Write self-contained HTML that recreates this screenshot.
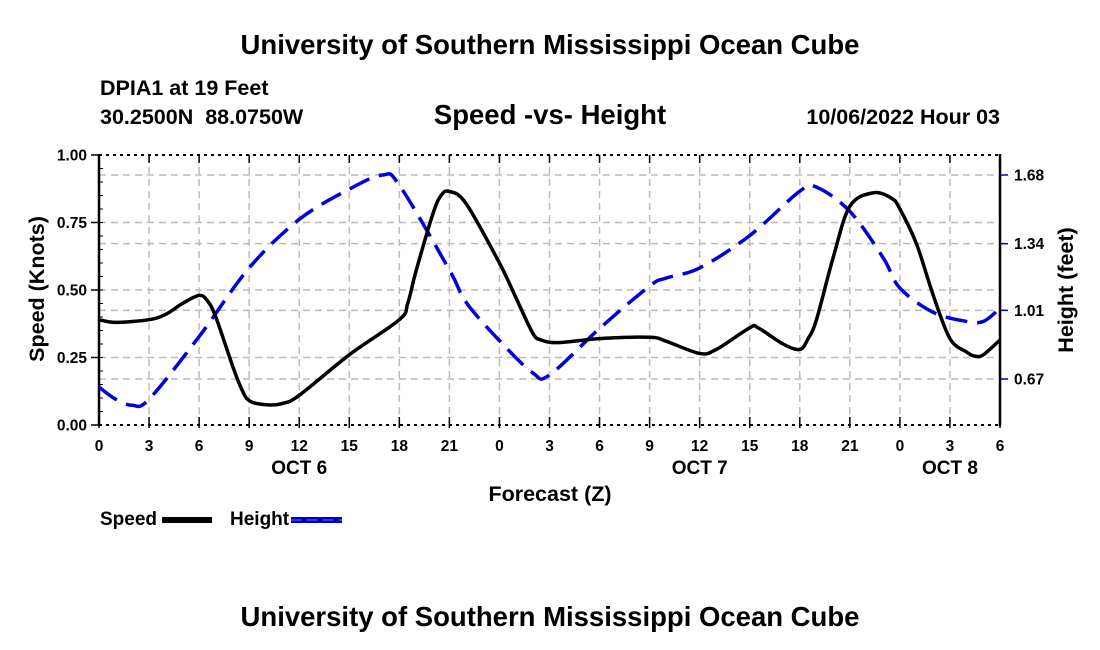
<!DOCTYPE html>
<html><head><meta charset="utf-8">
<style>
body{margin:0;background:#fff;}
svg{display:block;font-family:"Liberation Sans",Arial,sans-serif;font-weight:bold;}
</style></head>
<body>
<svg id="chart" width="1100" height="650" viewBox="0 0 1100 650" xmlns="http://www.w3.org/2000/svg">
<rect width="1100" height="650" fill="#fff"/>
<text x="550" y="54" font-size="27.5" text-anchor="middle">University of Southern Mississippi Ocean Cube</text>
<text x="100" y="95" font-size="21.5">DPIA1 at 19 Feet</text>
<text x="100" y="124" font-size="21.5" xml:space="preserve">30.2500N  88.0750W</text>
<text x="550" y="124" font-size="27.5" text-anchor="middle">Speed -vs- Height</text>
<text x="1000" y="124" font-size="21.5" text-anchor="end">10/06/2022 Hour 03</text>
<g id="grid"></g>
<g id="axes"></g>
<g id="series"></g>
<text x="550" y="501" font-size="21.5" text-anchor="middle">Forecast (Z)</text>
<text transform="translate(44,289) rotate(-90)" font-size="21.5" text-anchor="middle">Speed (Knots)</text>
<text transform="translate(1073,290) rotate(-90)" font-size="21.5" text-anchor="middle">Height (feet)</text>
<g>
<text x="100" y="525" font-size="19">Speed</text>
<rect x="162" y="517" width="50" height="6" fill="#000"/>
<text x="230" y="525" font-size="19">Height</text>
<rect x="291" y="517" width="51" height="6" fill="#0000cc"/>
<line x1="291" y1="520" x2="342" y2="520" stroke="#4444ff" stroke-width="1.5" stroke-dasharray="10 6"/>
</g>
<text x="550" y="626" font-size="27.5" text-anchor="middle">University of Southern Mississippi Ocean Cube</text>
</svg>
<script>
const speedHours = [0,1,3,4,5,6,6.5,7,8,8.5,9,10,11,12,15,18,18.5,19,20,20.5,21,22,24,25,26,26.5,27.5,30,33,34,36,37,39,39.5,41,42,42.5,43,44,45,46.4,47.5,48,49,50,51,52,52.5,53,54];
const speedValues = [0.39,0.38,0.39,0.41,0.45,0.48,0.46,0.40,0.22,0.14,0.09,0.075,0.08,0.11,0.26,0.39,0.45,0.57,0.78,0.85,0.865,0.82,0.60,0.47,0.34,0.315,0.305,0.32,0.325,0.31,0.265,0.28,0.36,0.36,0.30,0.28,0.32,0.39,0.62,0.81,0.86,0.84,0.80,0.67,0.48,0.32,0.27,0.255,0.26,0.315];
const heightHours = [0,1,2,3,6,9,12,15,17,18,21,22,24,26,27,30,33,34,36,39,42,43,45,47,48,50,52,53,54];
const heightValues = [0.63,0.57,0.54,0.57,0.88,1.22,1.46,1.61,1.68,1.63,1.21,1.05,0.86,0.70,0.69,0.92,1.13,1.17,1.22,1.38,1.60,1.62,1.50,1.27,1.12,1.00,0.955,0.955,1.02];
const xTickLabels = ["0","3","6","9","12","15","18","21","0","3","6","9","12","15","18","21","0","3","6"];
const dayLabels = ["OCT 6","OCT 7","OCT 8"];
const dayLabelHours = [12,36,51];
const speedTicks = [0,0.25,0.5,0.75,1.0];
const heightTicks = [0.67,1.01,1.34,1.68];

const X0=99,X1=1000,Y0=425,Y1=155,HMAX=54;
const xS=h=>X0+(X1-X0)*h/HMAX;
const yS=v=>Y0-(Y0-Y1)*v;
const yH=v=>379-(v-0.67)*(204/1.01);
const NS="http://www.w3.org/2000/svg";
function mk(tag,attrs,parent){const e=document.createElementNS(NS,tag);for(const k in attrs)e.setAttribute(k,attrs[k]);parent.appendChild(e);return e;}
const grid=document.getElementById('grid'),axes=document.getElementById('axes'),series=document.getElementById('series');

xTickLabels.forEach((t,i)=>{const x=xS(i*3);
 if(i>0&&i<xTickLabels.length-1){const l=mk('line',{x1:x,y1:Y1,x2:x,y2:Y0,stroke:'#bbb','stroke-width':1.5,'stroke-dasharray':'7 5'},grid);
 
 }
 const tk=mk('line',{x1:x,y1:Y0+3,x2:x,y2:Y0-8,stroke:'#000','stroke-width':1.5},axes);
 
 
 const tk2=mk('line',{x1:x,y1:Y1,x2:x,y2:Y1+8,stroke:'#000','stroke-width':1.5},axes);
 
 
 const tx=mk('text',{x:x,y:451,'font-size':15.5,'text-anchor':'middle'},axes);tx.textContent=t;
 
 
});
dayLabels.forEach((d,i)=>{const tx=mk('text',{x:xS(dayLabelHours[i]),y:474,'font-size':19,'text-anchor':'middle'},axes);tx.textContent=d;
 
 });
speedTicks.forEach(v=>{const y=yS(v);
 if(v>0&&v<1){const l=mk('line',{x1:X0,y1:y,x2:X1,y2:y,stroke:'#bbb','stroke-width':1.5,'stroke-dasharray':'7 5'},grid);
 
 }
 const tk=mk('line',{x1:X0-8,y1:y,x2:X0,y2:y,stroke:'#000','stroke-width':1.5},axes);
 
 
 const tx=mk('text',{x:87,y:y+5.5,'font-size':15.5,'text-anchor':'end'},axes);tx.textContent=v.toFixed(2);
 
 
});
for(let v=0.05;v<1;v+=0.05){const y=yS(v);const m=mk('line',{x1:X0,y1:y,x2:X0+4,y2:y,stroke:'#000','stroke-width':1},axes);
 
 }
heightTicks.forEach(v=>{const y=yH(v);
 const l=mk('line',{x1:X0,y1:y,x2:X1,y2:y,stroke:'#bbb','stroke-width':1.5,'stroke-dasharray':'7 5'},grid);
 
 
 const tk=mk('line',{x1:X1,y1:y,x2:X1+8,y2:y,stroke:'#0000cc','stroke-width':1.5},axes);
 
 
 const tx=mk('text',{x:1014,y:y+5.5,'font-size':15.5},axes);tx.textContent=v.toFixed(2);
 
 
});
const la=mk('line',{x1:X0,y1:Y1-1,x2:X0,y2:Y0+1,stroke:'#000','stroke-width':2.5},axes);


const ra=mk('line',{x1:X1,y1:Y1-1,x2:X1,y2:Y0+1,stroke:'#000','stroke-width':2.5},axes);


const ta=mk('line',{x1:X0,y1:Y1,x2:X1,y2:Y1,stroke:'#000','stroke-width':2,'stroke-dasharray':'3 4'},axes);


const ba=mk('line',{x1:X0,y1:Y0,x2:X1,y2:Y0,stroke:'#000','stroke-width':2,'stroke-dasharray':'3 4'},axes);



function smooth(pts){let d=`M${pts[0][0]},${pts[0][1]}`;
 for(let i=0;i<pts.length-1;i++){const p0=pts[Math.max(0,i-1)],p1=pts[i],p2=pts[i+1],p3=pts[Math.min(pts.length-1,i+2)];
 const c1=[p1[0]+(p2[0]-p0[0])/6,p1[1]+(p2[1]-p0[1])/6],c2=[p2[0]-(p3[0]-p1[0])/6,p2[1]-(p3[1]-p1[1])/6];
 d+=` C${c1[0]},${c1[1]} ${c2[0]},${c2[1]} ${p2[0]},${p2[1]}`;}return d;}
const hp=mk('path',{d:smooth(heightHours.map((h,i)=>[xS(h),yH(heightValues[i])])),fill:'none',stroke:'#0000dd','stroke-width':3.5,'stroke-dasharray':'22 10'},series);


const sp=mk('path',{d:smooth(speedHours.map((h,i)=>[xS(h),yS(speedValues[i])])),fill:'none',stroke:'#000','stroke-width':3.5,'stroke-linejoin':'round'},series);


</script>
</body></html>
